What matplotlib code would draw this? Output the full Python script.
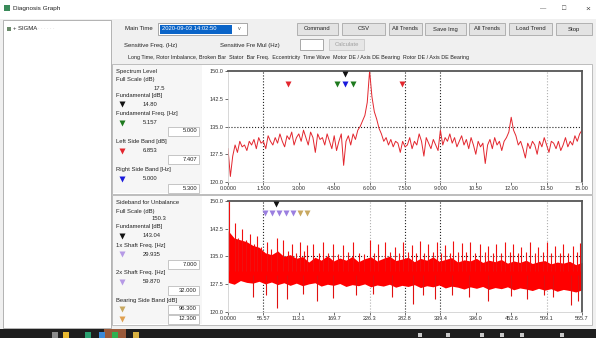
import numpy as np
import matplotlib.pyplot as plt
from matplotlib.patches import Rectangle

plt.rcParams['font.family'] = ['Liberation Sans', 'DejaVu Sans']

# ---- upper chart: spectrum around line frequency (0 - 15 Hz) ----
spec_amp = [129, 121.5, 127, 130, 128, 131, 129.5, 130, 128.5, 131,
            130, 131.5, 129, 132, 130.5, 131, 129, 132.5, 131, 130,
            132, 130.5, 133, 131, 129.5, 132.5, 131.5, 133.5, 130, 132,
            133, 131, 134, 132, 130, 133.5, 132, 128, 133, 131.5,
            132, 130, 133, 131, 129, 132.5, 128.5, 131, 133, 124.5,
            131, 132.5, 130, 133, 131.5, 134, 135, 136.5, 138, 141.5,
            150, 143, 139, 137, 134.5, 133, 131, 132, 130, 131.5,
            129.5, 131, 130.5, 128, 131, 129.5, 130, 132, 129, 131,
            130, 133, 131, 127, 132, 130.5, 129, 131.5, 130, 128.5,
            134, 130, 132, 131, 133, 130.5, 132, 129.5, 131, 132.5,
            130, 131.5, 129, 132, 130, 127.5, 131, 129.5, 130.5, 125,
            130, 131.5, 129, 132, 130, 131, 128.5, 131, 132, 133.5,
            137.5, 134, 132.5, 130, 131, 129, 126.5, 130.5, 129, 131,
            130, 127.5, 131, 129.5, 132, 130, 128, 131, 130.5, 129,
            131, 128.5, 130, 132, 129.5, 131, 130, 132.5, 131, 133,
            134]
spec_max = 15.0
up_xlabels = ["0.0000", "1.500", "3.000", "4.500", "6.000", "7.500",
              "9.000", "10.50", "12.00", "13.50", "15.00"]
up_markers = [(2.53, 146.5, '#e3262e'), (4.6, 146.5, '#1e7a1e'),
              (4.96, 146.5, '#1a1adc'), (5.28, 146.5, '#1e7a1e'),
              (4.96, 149.2, '#111111'), (7.39, 146.5, '#e3262e')]

# ---- lower chart: sideband for unbalance (0 - 565.7 Hz) ----
band_top = [142, 140, 139.5, 139, 138, 137.5, 136, 135.5, 136.5, 135, 135.5,
            134.5, 135, 133.5, 134.8, 134, 135.2, 133.8, 134.6, 134, 135,
            133.6, 134.4, 134.9, 133.8, 134.5, 135.1, 133.9, 134.3, 134.8, 133.6,
            134.5, 134, 134.9, 133.7, 134.2, 134.7, 133.5, 134.1, 133.8, 134.5,
            133.4, 134, 133.6, 134.2, 133.2, 133.8, 133.4, 134, 133.1, 133.6,
            133.9, 133, 133.5, 133.2, 133.7, 132.8, 133.4]
band_bot = [128, 127.5, 128.5, 128, 127.8, 128.3, 127.6, 128.1, 127.4, 127.9, 127.2,
            127.8, 127.1, 127.6, 127.9, 127, 127.5, 127.2, 127.7, 126.9, 127.4,
            127.1, 127.6, 126.8, 127.3, 127, 127.5, 126.7, 127.2, 126.9, 127.4,
            126.6, 127.1, 126.8, 127.3, 126.5, 127, 126.7, 126.2, 126.8, 126.4,
            126.9, 126.1, 126.6, 126.3, 126.8, 126, 126.5, 126.2, 125.8, 126.4,
            125.9, 126.3, 125.6, 126.1, 125.8, 125.4, 126]
spike_f = [1.5, 11, 16, 22, 28, 35, 41, 46, 53, 62,
           69, 78, 88, 96, 102, 109, 115, 121, 126, 136,
           145, 152, 160, 168, 176, 184, 192, 200, 210, 218,
           227, 234, 240, 251, 259, 267, 274, 280, 287, 294,
           300, 307, 314, 320, 327, 334, 340, 347, 354, 360,
           367, 374, 380, 387, 395, 403, 410, 416, 423, 429,
           436, 443, 450, 456, 463, 469, 476, 483, 490, 496,
           503, 509, 516, 523, 530, 536, 544, 552, 558, 563]
spike_top = [150, 144, 140, 142.5, 139.5, 141, 138.5, 140.5, 137.5, 139,
             137, 140, 139.5, 136.5, 138.5, 136, 139, 136.5, 138, 138.5,
             136, 139, 136, 138.5, 135.8, 138, 136.2, 139, 136, 135.8,
             139.5, 136, 138.5, 139, 136.2, 137.5, 136, 139, 136.3, 138,
             136, 139.2, 135.9, 138.5, 136.2, 139, 136, 138.2, 136, 139.3,
             136.1, 138.6, 136.3, 139, 136, 138.5, 136.2, 137.8, 136, 138.4,
             136, 138.9, 136.1, 138.3, 136, 137.6, 136.2, 138.8, 136, 137.5,
             136.1, 139, 135.9, 137.8, 136, 138.4, 136, 137.9, 136.2, 138.6]
dip_f = [40, 60, 78, 95, 120, 142, 168, 205, 232, 262, 296,
         312, 330, 358, 385, 415, 452, 478, 505, 520, 548, 560]
dip_bot = [124, 124.5, 121, 123.5, 124.8, 123, 123.8, 124.5, 124.8, 124, 122.2,
           124.6, 123.5, 124.7, 124, 123, 124.2, 123.5, 124.6, 124, 121.8, 123]
side_max = 565.7
lo_xlabels = ["0.0000", "56.57", "113.1", "169.7", "226.3", "282.8",
              "339.4", "396.0", "452.6", "509.1", "565.7"]
lo_markers = [(59, 146.8, '#9b7fe0'), (70.5, 146.8, '#9b7fe0'),
              (82, 146.8, '#9b7fe0'), (93, 146.8, '#9b7fe0'),
              (104, 146.8, '#9b7fe0'), (115, 146.8, '#c8a860'),
              (126, 146.8, '#c8a860'), (76, 149.2, '#111111')]

y_ticks = [120, 127.5, 135, 142.5, 150]
y_labels = ["120.0", "127.5", "135.0", "142.5", "150.0"]

W, H = 596, 338
fig = plt.figure(figsize=(W / 100, H / 100), dpi=100)
bg = fig.add_axes([0, 0, 1, 1])
bg.set_xlim(0, W)
bg.set_ylim(H, 0)
bg.axis('off')


def box(x, y, w, h, fc, ec='none', lw=0.6):
    bg.add_patch(Rectangle((x, y), w, h, fc=fc, ec=ec, lw=lw))


def txt(x, y, s, size=4.3, color='#222222', **kw):
    bg.text(x, y, s, fontsize=size, color=color, va='center', **kw)


# window frame
box(0, 0, W, H, '#f0f0f0')
box(0, 0, W, 19, 'white')
box(4, 5, 6, 6, '#3a8a5a')
txt(13, 8.5, "Diagnosis Graph", 4.6)
txt(540, 9, "\u2014", 4.5, '#444444')
txt(562, 9, "\u25a1", 5, '#444444')
txt(585, 9, "\u00d7", 6, '#444444')

# tree panel
box(3, 20, 108, 308, 'white', '#a8a8a8')
box(7, 27, 4, 4, '#6a8a6a')
txt(13, 29, "+ SIGMA", 4.3)
txt(38, 29, "\u00b7 \u00b7 \u00b7 \u00b7 \u00b7 \u00b7", 3.5, '#c0c0c0')

# toolbar row
txt(125, 29, "Main Time", 4.3)
box(158, 23, 89, 12, 'white', '#9a9a9a')
box(160, 24.5, 72, 9, '#0a64c8')
txt(162, 29, "2020-09-03 14:02:50", 4.2, 'white')
txt(238, 29, "v", 4, '#555555')
buttons = [(297, 338, "Command"), (342, 385, "CSV"), (389, 422, "All Trends"),
           (425, 466, "Save Img"), (469, 505, "All Trends"),
           (509, 552, "Load Trend"), (556, 592, "Stop")]
for x0, x1, lab in buttons:
    box(x0, 23, x1 - x0, 12, '#e3e3e3', '#a8a8a8')
    txt((x0 + x1) / 2, 29, lab, 4.2, ha='center')

txt(124, 45, "Sensitive Freq. (Hz)", 4.3)
txt(220, 45, "Sensitive Fre Mul (Hz)", 4.3)
box(300, 39, 23, 11, 'white', '#9a9a9a')
box(329, 39, 35, 11, '#e6e6e6', '#c8c8c8')
txt(346.5, 44.5, "Calculate", 4.2, '#a0a0a0', ha='center')

tabs = ["Long Time, Rotor Imbalance, Broken Bar", "Stator", "Bar Freq.",
        "Eccentricity", "Time Wave", "Motor DE / Axis DE Bearing",
        "Rotor DE / Axis DE Bearing"]
txt(128, 58, "  ".join(tabs), 3.9)

# chart panels
for top in (64, 195):
    box(112, top, 480, 130, 'white', '#b4b4b4')
    box(113, top + 1, 89, 128, '#f6f6f6')

tri = {'black': '#111111', 'green': '#1e7a1e', 'red': '#e3262e',
       'blue': '#1a1adc', 'purple': '#b69ae6', 'tan': '#c8a860',
       'orange': '#e0a050'}

info_up = [("label", "Spectrum Level", 72), ("label", "Full Scale (dB)", 80),
           ("center", "17.5", 88.5), ("label", "Fundamental [dB]", 95),
           ("black", "14.80", 104), ("label", "Fundamental Freq. [Hz]", 113.5),
           ("green", "5.157", 123), ("box", "5.000", 131),
           ("label", "Left Side Band [dB]", 142), ("red", "6.853", 151),
           ("box", "7.407", 159.5), ("label", "Right Side Band [Hz]", 169),
           ("blue", "5.000", 178.5), ("box", "5.300", 188)]
info_lo = [("label", "Sideband for Unbalance", 203), ("label", "Full Scale (dB)", 211),
           ("center", "150.3", 219), ("label", "Fundamental [dB]", 226.5),
           ("black", "143.04", 235.5), ("label", "1x Shaft Freq. [Hz]", 245),
           ("purple", "29.935", 254), ("box", "7.000", 264),
           ("label", "2x Shaft Freq. [Hz]", 272.5), ("purple", "59.870", 281.5),
           ("box", "32.000", 290.5), ("label", "Bearing Side Band [dB]", 300.5),
           ("tan", "!96.300", 309), ("orange", "!12.300", 319)]

for rows in (info_up, info_lo):
    for kind, s, y in rows:
        if kind == "label":
            txt(116, y, s, 4.2)
        elif kind == "center":
            txt(159, y, s, 4.2, ha='center')
        elif kind == "box":
            box(168, y - 4.5, 31, 9, 'white', '#b0b0b0', 0.5)
            txt(197, y, s, 4.2, ha='right')
        else:
            bg.plot(122, y, marker='v', ms=3.8, color=tri[kind], mec='none')
            if s.startswith("!"):
                box(168, y - 4.5, 31, 9, 'white', '#b0b0b0', 0.5)
                txt(197, y, s[1:], 4.2, ha='right')
            else:
                txt(143, y, s, 4.2)

# taskbar
box(0, 329, W, 9, '#1e1e1e')
box(104, 329, 22, 9, '#9a5a3a')
for x, c in [(52, '#8a8a8a'), (63, '#e8b830'), (85, '#2aa070'), (99, '#3a8ad8'),
             (112, '#30b050'), (133, '#d8b040')]:
    box(x, 332, 6, 6, c)
for x in (418, 446, 480, 500, 520, 560):
    box(x, 333, 4, 4, '#c8c8c8')


def style_axes(ax, xmax, xlabels):
    ax.set_xlim(0, xmax)
    ax.set_ylim(120, 150)
    ticks = np.linspace(0, xmax, len(xlabels))
    ax.set_xticks(ticks)
    ax.set_xticklabels(xlabels)
    ax.set_yticks(y_ticks)
    ax.set_yticklabels(y_labels)
    ax.tick_params(labelsize=4, length=2, pad=1, colors='#333333', width=0.5)
    for side in ('top', 'right'):
        ax.spines[side].set_color('#555555')
        ax.spines[side].set_linewidth(1.3)
    for side in ('left', 'bottom'):
        ax.spines[side].set_color('#c8c8c8')
        ax.spines[side].set_linewidth(0.5)
    for i in (1, 5, 6):
        ax.axvline(ticks[i], color='#222222', ls=':', lw=0.8, zorder=1)
    for i in (4, 9):
        ax.axvline(ticks[i], color='#b0b0b0', ls=':', lw=0.8, zorder=1)
    ax.axhline(135, color='#222222', ls=':', lw=0.8, zorder=1)


ax1 = fig.add_axes([228 / W, 1 - 182 / H, 354 / W, 111 / H])
style_axes(ax1, spec_max, up_xlabels)
spec_freq = np.linspace(0, spec_max, len(spec_amp))
ax1.plot(spec_freq, spec_amp, color='#e3262e', lw=0.7, zorder=2)
for f, v, c in up_markers:
    ax1.plot(f, v, marker='v', ms=4.2, color=c, mec='none', zorder=3)

ax2 = fig.add_axes([228 / W, 1 - 312 / H, 354 / W, 111 / H])
style_axes(ax2, side_max, lo_xlabels)
band_f = np.linspace(0, side_max, len(band_top))
ax2.fill_between(band_f, band_bot, band_top, color='#ff0000', lw=0, zorder=2)
ax2.vlines(spike_f, 131, spike_top, color='#f01010', lw=0.8, zorder=2.5)
ax2.vlines(dip_f, dip_bot, 130, color='#e01010', lw=0.8, zorder=2.5)
for f, v, c in lo_markers:
    ax2.plot(f, v, marker='v', ms=4.2, color=c, mec='none', zorder=3)

fig.savefig('out.png', dpi=100)
